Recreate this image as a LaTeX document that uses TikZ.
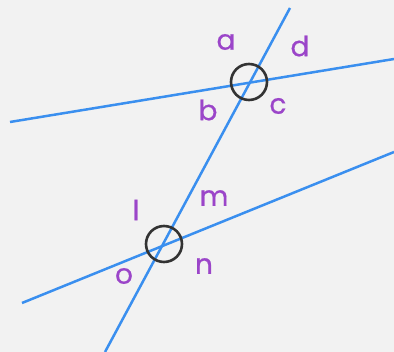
\documentclass[tikz,border=0pt]{standalone}
\usepackage{fontspec}
\setmainfont{Poppins}
\newfontfamily\lblfont[FakeBold=0.6]{Poppins}
\usetikzlibrary{positioning}
\definecolor{cBack}{HTML}{F2F2F2}
\definecolor{cLine}{HTML}{3A8FEF}
\definecolor{cLetter}{HTML}{9B45C9}
\definecolor{cRing}{HTML}{333333}
\begin{document}
\begin{tikzpicture}[
      x=1pt, y=-1pt,
      line/.style={cLine, line width=2.5pt},
      ring/.style={draw=cRing, circle, line width=2.6pt, minimum size=36pt, inner sep=0pt},
      lbl/.style={text=cLetter, font=\lblfont\fontsize{28}{28}\selectfont, inner sep=0pt}
    ]
      \fill[cBack] (0,0) rectangle (394,352);
      \useasboundingbox (0,0) rectangle (394,352);

      \coordinate (t1) at (290,8);
      \coordinate (t2) at (105,352);
      \coordinate (u1) at (10,122);
      \coordinate (u2) at (394,59);
      \coordinate (w1) at (22,303);
      \coordinate (w2) at (394,152);

      \draw[line] (u1) -- (u2);
      \draw[line] (w1) -- (w2);
      \draw[line] (t1) -- (t2);

      \node[ring] (top) at (249,82) {};
      \node[ring] (bot) at (164,244) {};

      \node[lbl] (a) at (226,42) {a};
      \node[lbl] (d) at (300,46) {d};
      \node[lbl] (b) at (208,110) {b};
      \node[lbl] (c) at (278,106) {c};

      \node[lbl] (l) at (136,210) {l};
      \node[lbl] (m) at (214,198) {m};
      \node[lbl] (o) at (124,276) {o};
      \node[lbl] (n) at (204,266) {n};
    \end{tikzpicture}
\end{document}
